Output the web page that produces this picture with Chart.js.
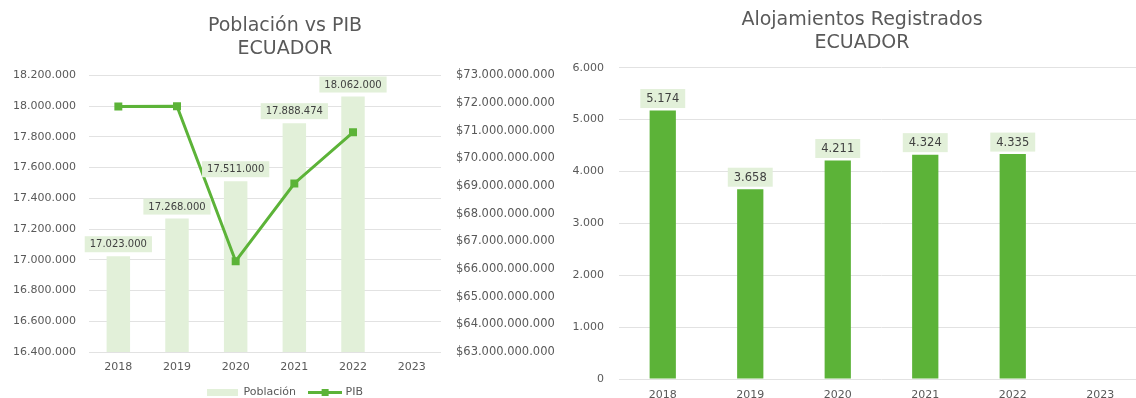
<!DOCTYPE html>
<html lang="es">
<head>
<meta charset="UTF-8">
<title>Población, PIB y Alojamientos - Ecuador</title>
<style>
  html, body { margin: 0; padding: 0; overflow: hidden; background: #fff; }
  body { width: 1136px; height: 398px; position: relative; }
  canvas { position: absolute; top: 0; }
  #pobPib { left: 0; }
  #alojamientos { left: 560px; }
</style>
</head>
<body>
<script src="https://cdn.jsdelivr.net/npm/chart.js"></script>
<canvas id="pobPib" width="570" height="408"></canvas>
<canvas id="alojamientos" width="604" height="408"></canvas>
<script>
// datos
const anios = ['2018', '2019', '2020', '2021', '2022', '2023'];
const poblacion = [17023000, 17268000, 17511000, 17888474, 18062000, null];
const pib = [71870000000, 71880000000, 66280000000, 69090000000, 70940000000, null];
const alojamientos = [5174, 3658, 4211, 4324, 4335, null];

const verdeClaro = '#E2F0D9';
const verde = '#5CB338';
const gris = '#595959';
const rejilla = '#E2E2E2';

// 17023000 -> "17.023.000"
const puntos = v => String(Math.round(v)).replace(/\B(?=(\d{3})+(?!\d))/g, '.');

Chart.defaults.font.family = "'DejaVu Sans', sans-serif";
Chart.defaults.font.size = 11;
Chart.defaults.color = gris;

// etiquetas de valor encima de las barras, con fondo
const etiquetasBarras = {
  id: 'etiquetasBarras',
  afterDatasetsDraw(chart, args, opts) {
    const ctx = chart.ctx;
    const meta = chart.getDatasetMeta(opts.dataset);
    const valores = chart.data.datasets[opts.dataset].data;
    ctx.save();
    ctx.font = opts.font;
    ctx.textAlign = 'center';
    ctx.textBaseline = 'middle';
    meta.data.forEach((barra, i) => {
      if (valores[i] == null) return;
      const txt = puntos(valores[i]);
      const w = ctx.measureText(txt).width + opts.padX * 2;
      const cy = barra.y - opts.offset;
      ctx.fillStyle = opts.fondo;
      ctx.fillRect(barra.x - w / 2, cy - opts.alto / 2, w, opts.alto);
      ctx.fillStyle = opts.color;
      ctx.fillText(txt, barra.x, cy + 0.5);
    });
    ctx.restore();
  }
};

// iconos de la leyenda
function iconoBarra() {
  const c = document.createElement('canvas');
  c.width = 31; c.height = 7;
  const g = c.getContext('2d');
  g.fillStyle = verdeClaro;
  g.fillRect(0, 0, 31, 7);
  return c;
}
function iconoLinea() {
  const c = document.createElement('canvas');
  c.width = 34; c.height = 7;
  const g = c.getContext('2d');
  g.fillStyle = verde;
  g.fillRect(0, 2, 34, 3);
  g.fillRect(14, 0, 7, 7);
  return c;
}
const iconos = [iconoBarra(), iconoLinea()];

new Chart(document.getElementById('pobPib'), {
  type: 'bar',
  data: {
    labels: anios,
    datasets: [
      {
        label: 'Población',
        data: poblacion,
        backgroundColor: verdeClaro,
        barPercentage: 0.4,
        categoryPercentage: 1.0,
        yAxisID: 'y',
        order: 1
      },
      {
        type: 'line',
        label: 'PIB',
        data: pib,
        borderColor: verde,
        backgroundColor: verde,
        borderWidth: 3,
        pointStyle: 'rect',
        pointRadius: 3.5,
        tension: 0,
        yAxisID: 'y1',
        order: 0
      }
    ]
  },
  options: {
    responsive: false,
    animation: false,
    devicePixelRatio: 1,
    layout: { padding: 0 },
    plugins: {
      title: {
        display: true,
        text: ['Población vs PIB', 'ECUADOR'],
        color: gris,
        font: { size: 19, weight: 'normal', lineHeight: '23px' },
        padding: { top: 15, bottom: 14.3 }
      },
      legend: {
        position: 'bottom',
        labels: {
          usePointStyle: true,
          pointStyleWidth: 31,
          padding: 13,
          color: gris,
          font: { size: 11 },
          sort: (a, b) => a.datasetIndex - b.datasetIndex,
          generateLabels(chart) {
            const items = Chart.defaults.plugins.legend.labels.generateLabels(chart);
            items.forEach(it => { it.pointStyle = iconos[it.datasetIndex]; });
            return items;
          }
        }
      },
      tooltip: { enabled: false },
      etiquetasBarras: {
        dataset: 0,
        font: "10px 'DejaVu Sans'",
        color: '#404040',
        fondo: verdeClaro,
        padX: 5,
        alto: 16,
        offset: 12
      }
    },
    scales: {
      x: {
        grid: { display: false, drawTicks: false },
        border: { display: false },
        ticks: { padding: 9, color: gris },
        afterFit(s) { s.height = 22; }
      },
      y: {
        position: 'left',
        min: 16400000,
        max: 18200000,
        grid: { color: rejilla, drawTicks: false },
        border: { display: false },
        ticks: { stepSize: 200000, padding: 13, callback: v => puntos(v) },
        afterFit(s) { s.width = 89; }
      },
      y1: {
        position: 'right',
        min: 63000000000,
        max: 73000000000,
        grid: { display: false, drawTicks: false },
        border: { display: false },
        ticks: { stepSize: 1000000000, padding: 15, font: { size: 11.5 }, callback: v => '$' + puntos(v) },
        afterFit(s) { s.width = 129; }
      }
    }
  },
  plugins: [etiquetasBarras]
});

new Chart(document.getElementById('alojamientos'), {
  type: 'bar',
  data: {
    labels: anios,
    datasets: [{
      label: 'Alojamientos',
      data: alojamientos,
      backgroundColor: verde,
      barPercentage: 0.3,
      categoryPercentage: 1.0
    }]
  },
  options: {
    responsive: false,
    animation: false,
    devicePixelRatio: 1,
    layout: { padding: 0 },
    plugins: {
      title: {
        display: true,
        text: ['Alojamientos Registrados', 'ECUADOR'],
        color: gris,
        font: { size: 19, weight: 'normal', lineHeight: '23px' },
        padding: { top: 8.5, bottom: 13.2 }
      },
      legend: { display: false },
      tooltip: { enabled: false },
      etiquetasBarras: {
        dataset: 0,
        font: "11.5px 'DejaVu Sans'",
        color: '#404040',
        fondo: verdeClaro,
        padX: 6,
        alto: 19,
        offset: 12
      }
    },
    scales: {
      x: {
        grid: { display: false, drawTicks: false },
        border: { display: false },
        ticks: { padding: 9.5, color: gris },
        afterFit(s) { s.height = 29; }
      },
      y: {
        position: 'left',
        min: 0,
        max: 6000,
        grid: { color: rejilla, drawTicks: false },
        border: { display: false },
        ticks: { stepSize: 1000, padding: 15, callback: v => puntos(v) },
        afterFit(s) { s.width = 59; }
      },
      // margen derecho para que el título quede centrado en el lienzo
      margen: {
        position: 'right',
        grid: { display: false, drawTicks: false },
        border: { display: false },
        ticks: { display: false },
        afterFit(s) { s.width = 20; }
      }
    }
  },
  plugins: [etiquetasBarras]
});
</script>
</body>
</html>
